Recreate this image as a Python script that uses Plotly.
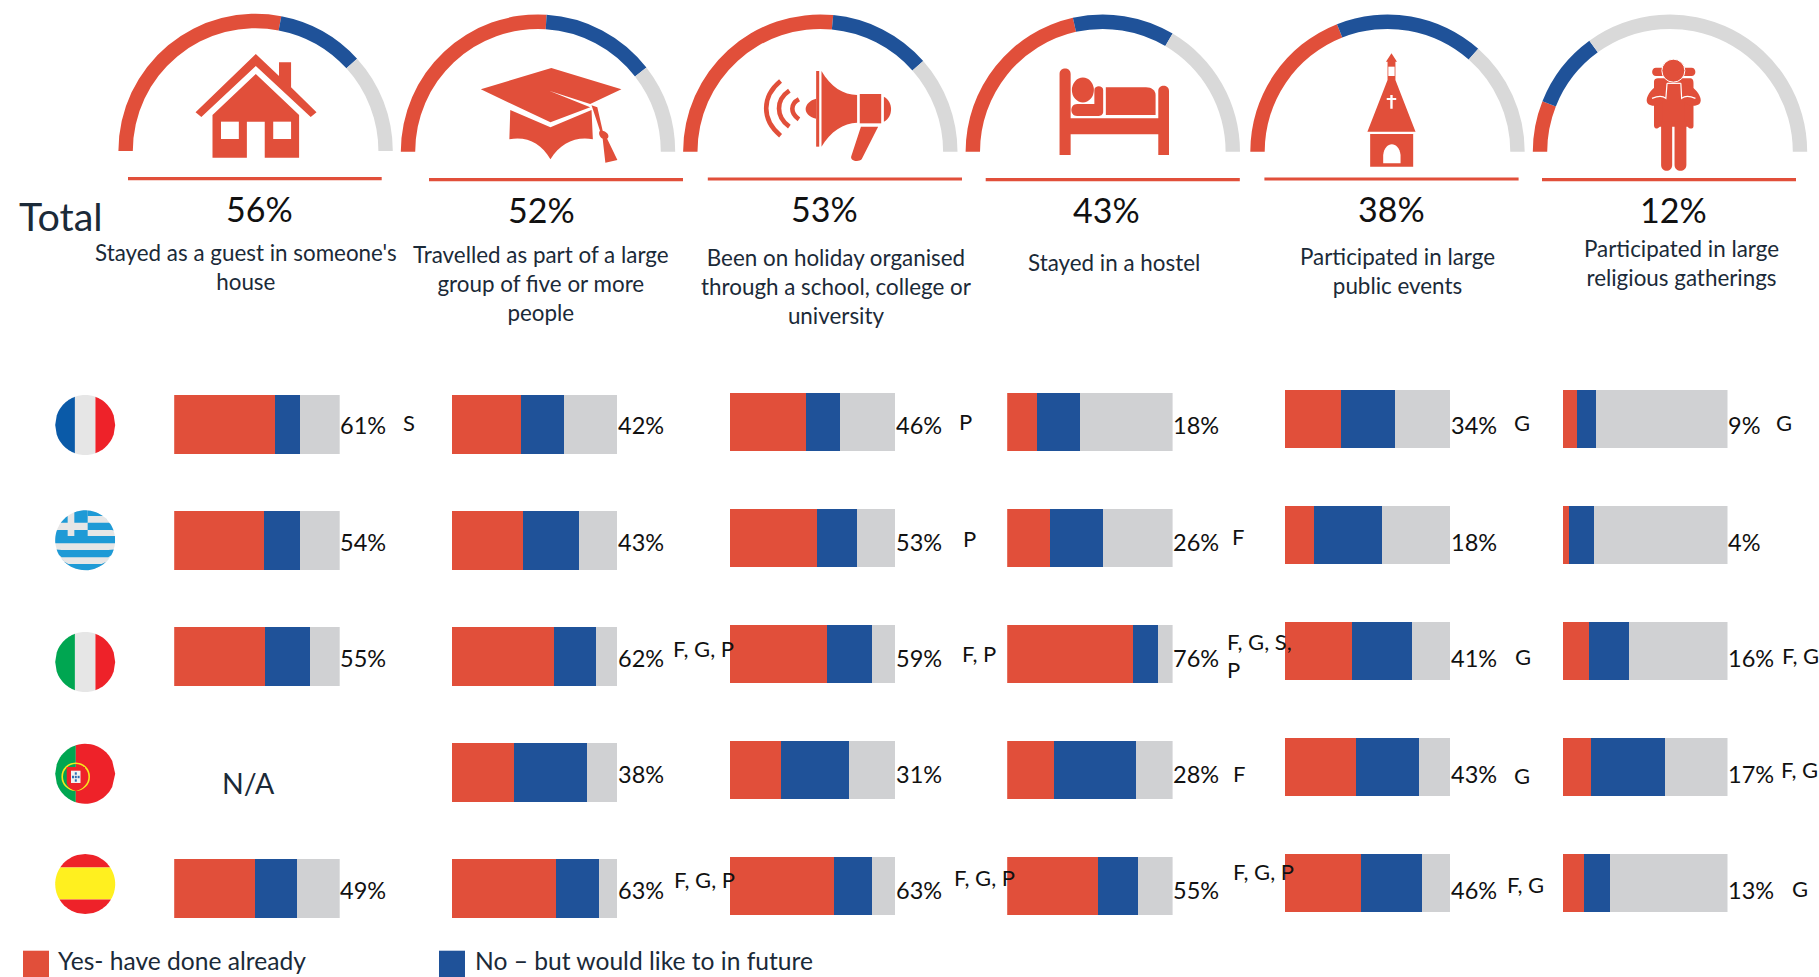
import re
import numpy as np
import plotly.graph_objects as go

W, H = 1819, 977
RED, BLUE, GREY, ARC_GREY = "#E14F3A", "#1F5299", "#D0D1D3", "#D9D9D9"
FONT = "Lato"
INK = "#1B2A38"

# ---------- data ----------
countries = ["France", "Greece", "Italy", "Portugal", "Spain"]
activities = ["Stayed as a guest in someone's<br>house",
              "Travelled as part of a large<br>group of five or more<br>people",
              "Been on holiday organised<br>through a school, college or<br>university",
              "Stayed in a hostel",
              "Participated in large<br>public events",
              "Participated in large<br>religious gatherings"]

total_yes = [56, 52, 53, 43, 38, 12]
total_would = [20.5, 27, 24, 24, 35, 18]
total_not = [23.5, 21, 23, 33, 27, 70]

yes_guest = [61, 54, 55, None, 49]
would_guest = [15, 22, 27, None, 25]
not_guest = [24, 24, 18, None, 26]

yes_group = [42, 43, 62, 38, 63]
would_group = [26, 34, 25, 44, 26]
not_group = [32, 23, 13, 18, 11]

yes_school = [46, 53, 59, 31, 63]
would_school = [21, 24, 27, 41, 23]
not_school = [33, 23, 14, 28, 14]

yes_hostel = [18, 26, 76, 28, 55]
would_hostel = [26, 32, 15, 50, 24]
not_hostel = [56, 42, 9, 22, 21]

yes_public = [34, 18, 41, 43, 46]
would_public = [33, 41, 36, 38, 37]
not_public = [33, 41, 23, 19, 17]

yes_religious = [9, 4, 16, 17, 13]
would_religious = [11, 15, 24, 45, 16]
not_religious = [80, 81, 60, 38, 71]

all_yes = [yes_guest, yes_group, yes_school, yes_hostel, yes_public, yes_religious]
all_would = [would_guest, would_group, would_school, would_hostel, would_public, would_religious]
all_not = [not_guest, not_group, not_school, not_hostel, not_public, not_religious]

legend_labels = ["Yes- have done already", "No \u2013 but would like to in future"]

# ---------- layout geometry (pixels) ----------
gauge_cx = [255.6, 538, 820.3, 1102.8, 1387.5, 1670]
gauge_cy = [151, 151.7, 151.7, 151.7, 151.7, 151.7]
gauge_r = 137.2
rule_x = [(128, 381.7), (429, 683), (707.8, 962), (985.7, 1239.8), (1264.4, 1518.6), (1542, 1796)]
rule_y = [178.7, 179.7, 179, 179.7, 179, 179.7]
total_xy = [(259.4, 208), (541.5, 209), (824.6, 208), (1106.6, 209), (1391.5, 208), (1673.7, 209)]
desc_xy = [(246.4, 267), (540.6, 283.3), (836, 286.5), (1113.5, 263), (1397.4, 271), (1681.6, 262.5)]
bar_x = [(174.2, 339.7), (451.6, 617), (729.7, 895), (1007.2, 1172.6), (1284.6, 1450), (1562.5, 1727.5)]
bar_yc = [424.3, 424.5, 421.8, 422, 419, 419]
ROW = 116
BAR_H = 58.5
label_y = [425.5, 542, 658, 773.8, 890]

sig_marks = [
    (402.7, 422, "S"), (672.8, 648.5, "F, G, P"), (674, 879, "F, G, P"),
    (959.5, 421.5, "P"), (962.5, 538, "P"), (962, 653, "F, P"), (953.7, 877, "F, G, P"),
    (1232, 536.6, "F"), (1227.4, 641, "F, G, S,"), (1227.4, 669, "P"), (1233, 773.6, "F"), (1233, 871, "F, G, P"),
    (1514, 422, "G"), (1515, 656, "G"), (1514, 775.5, "G"), (1507, 884, "F, G"),
    (1776, 422, "G"), (1781.6, 655, "F, G"), (1780.5, 769, "F, G"), (1791.7, 888.5, "G"),
]

# ---------- helpers ----------
def fx(x): return x / W
def fy(y): return 1 - y / H

def pth(s, xs=1.0, ox=0.0, ys=1.0):
    toks = re.findall(r"[A-Za-z]|-?\d+\.?\d*", s)
    out, is_x = [], True
    for t in toks:
        if t.isalpha():
            out.append(t); is_x = True
        else:
            v = float(t)
            if is_x:
                out.append(f"{fx(ox + v * xs):.5f}")
            else:
                out.append(f"{fy(v * ys):.5f}")
            is_x = not is_x
    return " ".join(out)

shapes = []
def add_path(s, fill, xs=1.0, ox=0.0, ys=1.0, line=None, lw=0):
    shapes.append(dict(type="path", path=pth(s, xs, ox, ys), xref="paper", yref="paper",
                       fillcolor=fill if fill else "rgba(0,0,0,0)",
                       line=dict(color=line if line else "rgba(0,0,0,0)", width=lw)))

def add_rect(x0, y0, x1, y1, fill):
    shapes.append(dict(type="rect", xref="paper", yref="paper", x0=fx(x0), x1=fx(x1), y0=fy(y1), y1=fy(y0),
                       fillcolor=fill, line=dict(width=0)))

def add_ell(cx, cy, rx, ry, fill, line=None, lw=0):
    shapes.append(dict(type="circle", xref="paper", yref="paper", x0=fx(cx - rx), x1=fx(cx + rx),
                       y0=fy(cy + ry), y1=fy(cy - ry), fillcolor=fill if fill else "rgba(0,0,0,0)",
                       line=dict(color=line if line else "rgba(0,0,0,0)", width=lw)))

def band(cx, cy, r, a0, a1, vertical, fill):
    """Portion of a flag disc between offsets a0..a1 from its centre."""
    a0, a1 = max(a0, -r), min(a1, r)
    ts = np.linspace(a0, a1, 14)
    hw = np.sqrt(np.maximum(r * r - ts * ts, 0))
    if vertical:
        pts = [(cx + t, cy - h) for t, h in zip(ts, hw)] + [(cx + t, cy + h) for t, h in zip(ts[::-1], hw[::-1])]
    else:
        pts = [(cx - h, cy + t) for t, h in zip(ts, hw)] + [(cx + h, cy + t) for t, h in zip(ts[::-1], hw[::-1])]
    add_path("M " + " L ".join(f"{a:.2f} {b:.2f}" for a, b in pts) + " Z", fill)

def clipped_rect(cx, cy, r, x0, y0, x1, y1, fill):
    """Rectangle clipped to a flag disc (by sampled outline)."""
    pts = []
    n = 10
    edge = [(x, y0) for x in np.linspace(x0, x1, n)] + [(x1, y) for y in np.linspace(y0, y1, n)] + \
           [(x, y1) for x in np.linspace(x1, x0, n)] + [(x0, y) for y in np.linspace(y1, y0, n)]
    for x, y in edge:
        dx, dy = x - cx, y - cy
        d = np.hypot(dx, dy)
        if d > r:
            x, y = cx + dx * r / d, cy + dy * r / d
        pts.append((x, y))
    add_path("M " + " L ".join(f"{a:.2f} {b:.2f}" for a, b in pts) + " Z", fill)

# ---------- figure ----------
fig = go.Figure()
layout_axes = {}
for i in range(6):
    sfx = "" if i == 0 else str(i + 1)
    xa, ya = "x" + sfx, "y" + sfx
    top = bar_yc[i] - ROW / 2
    bot = bar_yc[i] + 4 * ROW + ROW / 2
    layout_axes["xaxis" + sfx] = dict(domain=[fx(bar_x[i][0]), fx(bar_x[i][1])], range=[0, 100], visible=False,
                                      anchor=ya, fixedrange=True)
    layout_axes["yaxis" + sfx] = dict(domain=[fy(bot), fy(top)], range=[4.5, -0.5], type="category",
                                      categoryorder="array", categoryarray=countries, visible=False,
                                      anchor=xa, fixedrange=True)
    for vals, col, name in ((all_yes[i], RED, legend_labels[0]), (all_would[i], BLUE, legend_labels[1]),
                            (all_not[i], GREY, "Other")):
        fig.add_trace(go.Bar(x=vals, y=countries, orientation="h", xaxis=xa, yaxis=ya, name=name,
                             width=BAR_H / ROW, marker=dict(color=col, line=dict(width=0)), showlegend=False))

# gauges: half-doughnuts, the lower half being an invisible slice
for i in range(6):
    cx, cy = gauge_cx[i], gauge_cy[i]
    fig.add_trace(go.Pie(values=[total_yes[i], total_would[i], total_not[i], 100],
                         sort=False, direction="clockwise", rotation=270, hole=0.895,
                         domain=dict(x=[fx(cx - gauge_r), fx(cx + gauge_r)], y=[fy(cy + gauge_r), fy(cy - gauge_r)]),
                         marker=dict(colors=[RED, BLUE, ARC_GREY, "rgba(0,0,0,0)"], line=dict(width=0)),
                         textinfo="none", hoverinfo="skip", showlegend=False))

# header rules
for (x0, x1), y in zip(rule_x, rule_y):
    add_rect(x0, y - 1.6, x1, y + 1.6, RED)

# ---------- icons ----------
Z1 = dict(xs=1 / 2.24, ox=0, ys=1 / 3)
Z6 = dict(xs=1 / 2.613, ox=660, ys=1 / 3)
Z5 = dict(xs=1 / 2.533, ox=1200, ys=1 / 3)

# house
add_path("M 573 162 L 625 228 L 625 187 L 652 187 L 652 262 L 709 337 L 696 351 L 573 198 L 451 351 L 438 337 Z", RED, **Z1)
add_path("M 573 222 L 670 345 L 670 473 L 593 473 L 593 365 L 553 365 L 553 473 L 476 473 L 476 345 Z", RED, **Z1)
add_path("M 495 365 L 535 365 L 535 417 L 495 417 Z", "white", **Z1)
add_path("M 612 365 L 652 365 L 652 417 L 612 417 Z", "white", **Z1)

# mortar board
add_path("M 1143 330 L 1233 382 L 1325 330 L 1328 418 C 1290 408 1255 430 1233 478 C 1212 430 1180 408 1141 418 Z", RED, **Z1)
add_path("M 1235 204 L 1392 268 L 1322 312 L 1230 272 L 1322 322 L 1233 367 L 1077 268 Z", RED, **Z1)
add_path("M 1325 316 L 1338 322 L 1350 392 C 1365 398 1365 412 1360 416 L 1383 480 L 1356 488 L 1350 416 C 1342 410 1340 398 1344 392 Z", RED, **Z1)

# megaphone
for s in ("M 315 243 C 265 290 265 360 315 407", "M 338 272 C 302 300 302 350 338 380", "M 363 298 C 340 312 340 340 363 358"):
    add_path(s, None, **Z6, line=RED, lw=4.6)
add_path("M 408 296 C 375 305 368 345 408 356 Z", RED, **Z6)
add_path("M 408 213 L 416 213 L 416 440 L 408 440 Z", RED, **Z6)
add_path("M 422 213 C 445 260 480 285 515 285 L 515 368 C 480 368 445 395 422 440 Z", RED, **Z6)
add_path("M 522 282 L 578 282 L 578 370 L 522 370 Z", RED, **Z6)
add_path("M 585 290 C 610 305 610 350 585 365 Z", RED, **Z6)
add_path("M 525 380 L 570 380 L 527 478 C 518 488 495 482 500 468 Z", RED, **Z6)

# bed
add_path("M 1044 222 C 1044 200 1073 200 1073 222 L 1073 355 L 1302 355 L 1302 272 C 1302 252 1330 252 1330 272 L 1330 465 L 1302 465 L 1302 403 L 1073 403 L 1073 465 L 1044 465 Z", RED, **Z6)
add_ell(660 + 1105 / 2.613, 270 / 3, 11, 12.5, RED)
add_path("M 1090 312 L 1135 312 L 1135 270 C 1135 255 1158 255 1158 270 L 1158 335 C 1158 345 1150 348 1145 348 L 1090 348 C 1070 348 1070 312 1090 312 Z", RED, **Z6)
add_path("M 1165 262 L 1270 262 C 1285 262 1295 272 1295 285 L 1295 345 L 1165 345 Z", RED, **Z6)

# church
add_path("M 485 160 L 499 185 L 495 185 L 495 240 L 546 395 L 424 395 L 475 240 L 475 185 L 471 185 Z", RED, **Z5)
add_path("M 477 200 L 493 200 L 493 228 L 477 228 Z", "white", **Z5)
add_path("M 482 285 L 488 285 L 488 294 L 497 294 L 497 300 L 488 300 L 488 326 L 482 326 L 482 300 L 473 300 L 473 294 L 482 294 Z", "white", **Z5)
add_path("M 431 402 L 540 402 L 540 500 L 431 500 Z", RED, **Z5)
add_path("M 464 490 L 464 465 C 468 422 504 422 508 465 L 508 490 Z", "white", **Z5)

# backpacker
add_path("M 1155 203 L 1245 203 C 1258 203 1258 228 1245 228 L 1155 228 C 1142 228 1142 203 1155 203 Z", RED, **Z5)
add_path("M 1160 235 L 1240 235 C 1248 235 1250 240 1250 250 L 1250 378 C 1250 388 1240 388 1235 380 L 1165 380 C 1155 390 1150 385 1150 375 L 1150 245 C 1150 238 1155 235 1160 235 Z", RED, **Z5)
add_path("M 1152 262 L 1183 250 L 1218 250 L 1247 262 C 1262 275 1275 300 1265 312 C 1255 320 1238 320 1228 305 L 1228 370 L 1172 370 L 1172 305 C 1160 320 1145 320 1135 312 C 1125 300 1138 275 1152 262 Z", RED, **Z5)
add_path("M 1183 250 L 1180 295 C 1170 285 1155 290 1145 295", None, **Z5, line="white", lw=1.2)
add_path("M 1218 250 L 1220 295 C 1230 285 1245 290 1255 295", None, **Z5, line="white", lw=1.2)
add_path("M 1183 250 L 1218 250", None, **Z5, line="white", lw=1.2)
add_path("M 1168 365 L 1196 365 L 1196 495 C 1196 518 1168 518 1168 495 Z", RED, **Z5)
add_path("M 1202 365 L 1232 365 L 1232 495 C 1232 518 1202 518 1202 495 Z", RED, **Z5)
add_ell(1200 + 1199 / 2.533, 212 / 3, 11.5, 11.5, RED, line="white", lw=1)

# ---------- flags ----------
FLAG_RED, FLAG_WHITE = "#EE2229", "#E6E6E6"
FX, FR = 85.2, 30
# France
band(FX, 425, FR, -30, -10.3, True, "#0A5AA8")
band(FX, 425, FR, -10.3, 10.2, True, FLAG_WHITE)
band(FX, 425, FR, 10.2, 30, True, FLAG_RED)
# Greece
GC, GY = "#1E9AD6", 540.3
add_ell(FX, GY, FR, FR, FLAG_WHITE)
def gy(v): return 500 + v / 3
def gx(v): return 40 + v / 3
for X0, Y0, X1, Y1 in ((143, 30, 225, 48), (143, 68, 225, 90), (45, 108, 225, 130), (45, 150, 225, 172), (45, 192, 225, 215),
                       (103, 25, 143, 68), (50, 45, 83, 68), (45, 90, 83, 108), (103, 90, 143, 108)):
    clipped_rect(FX, GY, FR, gx(X0), gy(Y0), gx(X1), gy(Y1), GC)
# Italy
band(FX, 662, FR, -30, -10.3, True, "#00A651")
band(FX, 662, FR, -10.3, 10.2, True, FLAG_WHITE)
band(FX, 662, FR, 10.2, 30, True, FLAG_RED)
# Portugal
PY = 773.8
band(FX, PY, FR, -30, -9.4, True, "#00A651")
band(FX, PY, FR, -9.4, 30, True, FLAG_RED)
add_ell(75.7, 776.7, 13.5, 13.5, None, line="#F6E71D", lw=1.6)
add_rect(66.7, 767, 85, 783, FLAG_RED)
add_path("M 66.7 783 C 68 788 72 790 75.8 791 C 80 790 84 788 85 783 Z", FLAG_RED)
add_rect(71, 770.7, 80.5, 783, "#F2F2F2")
for dx, dy in ((75.8, 773.5), (75.8, 777), (75.8, 780.5), (73, 777), (78.6, 777)):
    add_rect(dx - 1, dy - 1.2, dx + 1, dy + 1.2, "#2E6DB4")
# Spain
SY = 884
band(FX, SY, FR, -30, -16.5, False, FLAG_RED)
band(FX, SY, FR, -16.5, 15.6, False, "#FFF01F")
band(FX, SY, FR, 15.6, 30, False, FLAG_RED)

# legend swatches
add_rect(23, 950.7, 49, 980, RED)
add_rect(439, 950.7, 465, 980, BLUE)

# ---------- texts ----------
ann = []
def txt(x, y, s, size, color="#111111", anchor="center", **kw):
    ann.append(dict(x=fx(x), y=fy(y), xref="paper", yref="paper", text=s, showarrow=False, xanchor=anchor,
                    yanchor="middle", align=anchor if anchor != "center" else "center",
                    font=dict(family=FONT, size=size, color=color), borderpad=0, borderwidth=0, **kw))

txt(18.8, 215.7, "Total", 39.5, INK, "left")
for (x, y), v in zip(total_xy, total_yes):
    txt(x, y, f"{v}%", 34, "#111111")
for (x, y), s in zip(desc_xy, activities):
    txt(x, y, s, 22.4, INK)
for i in range(6):
    for j, v in enumerate(all_yes[i]):
        if v is not None:
            txt(bar_x[i][1] + 0.5, label_y[j], f"{v}%", 23.5, "#111111", "left")
txt(249, 782.5, "N/A", 28.5, INK)
for x, y, s in sig_marks:
    txt(x, y, s, 22, "#111111", "left")
txt(58, 960.5, legend_labels[0], 24.6, INK, "left")
txt(475.4, 960.5, legend_labels[1], 24.6, INK, "left")

fig.update_layout(width=W, height=H, margin=dict(l=0, r=0, t=0, b=0), paper_bgcolor="white", plot_bgcolor="white",
                  barmode="stack", showlegend=False, shapes=shapes, annotations=ann, **layout_axes)

fig.write_html("out.html", config=dict(displayModeBar=False),
               post_script="document.body.style.margin='0';document.documentElement.style.overflow='hidden';")
